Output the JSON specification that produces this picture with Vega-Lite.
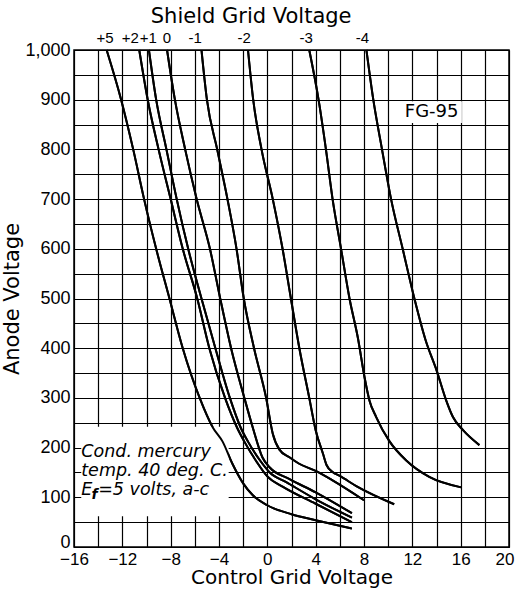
{
  "$schema": "https://vega.github.io/schema/vega-lite/v6.json",
  "width": 435,
  "height": 497,
  "autosize": "none",
  "padding": {"left": 74, "top": 50, "right": 6, "bottom": 45},
  "background": "white",
  "config": {
    "view": {"stroke": "black", "strokeWidth": 1.5},
    "axis": {"labelColor": "black", "titleColor": "black", "labelFont": "Liberation Sans", "titleFont": "DejaVu Sans", "labelFontSize": 18, "titleFontSize": 21, "titleFontWeight": "normal"}
  },
  "datasets": {
    "curves": [
      {"sg": "+5", "v": -13.3, "a": 1000}, {"sg": "+5", "v": -12.1, "a": 900}, {"sg": "+5", "v": -11.1, "a": 800}, {"sg": "+5", "v": -10.2, "a": 700}, {"sg": "+5", "v": -9.2, "a": 600}, {"sg": "+5", "v": -8.1, "a": 500}, {"sg": "+5", "v": -7.0, "a": 400}, {"sg": "+5", "v": -5.6, "a": 300}, {"sg": "+5", "v": -4.5, "a": 240}, {"sg": "+5", "v": -3.7, "a": 212}, {"sg": "+5", "v": -2.9, "a": 168}, {"sg": "+5", "v": -2.0, "a": 128}, {"sg": "+5", "v": -1.2, "a": 104}, {"sg": "+5", "v": 0, "a": 84}, {"sg": "+5", "v": 2, "a": 66}, {"sg": "+5", "v": 4, "a": 54}, {"sg": "+5", "v": 7, "a": 37},
      {"sg": "+2", "v": -10.6, "a": 1000}, {"sg": "+2", "v": -9.9, "a": 900}, {"sg": "+2", "v": -9.0, "a": 800}, {"sg": "+2", "v": -8.0, "a": 700}, {"sg": "+2", "v": -7.0, "a": 600}, {"sg": "+2", "v": -5.8, "a": 500}, {"sg": "+2", "v": -4.8, "a": 400}, {"sg": "+2", "v": -3.5, "a": 300}, {"sg": "+2", "v": -2.5, "a": 240}, {"sg": "+2", "v": -1.9, "a": 212}, {"sg": "+2", "v": -0.9, "a": 172}, {"sg": "+2", "v": 0, "a": 142}, {"sg": "+2", "v": 1.3, "a": 121}, {"sg": "+2", "v": 4, "a": 87}, {"sg": "+2", "v": 7, "a": 50},
      {"sg": "+1", "v": -9.8, "a": 1000}, {"sg": "+1", "v": -9.2, "a": 900}, {"sg": "+1", "v": -8.35, "a": 800}, {"sg": "+1", "v": -7.5, "a": 700}, {"sg": "+1", "v": -6.55, "a": 600}, {"sg": "+1", "v": -5.45, "a": 500}, {"sg": "+1", "v": -4.3, "a": 400}, {"sg": "+1", "v": -3.1, "a": 300}, {"sg": "+1", "v": -2.2, "a": 240}, {"sg": "+1", "v": -1.6, "a": 212}, {"sg": "+1", "v": -0.6, "a": 174}, {"sg": "+1", "v": 0.2, "a": 150}, {"sg": "+1", "v": 1.6, "a": 130}, {"sg": "+1", "v": 4, "a": 96}, {"sg": "+1", "v": 7, "a": 59},
      {"sg": "0", "v": -8.3, "a": 1000}, {"sg": "0", "v": -7.65, "a": 900}, {"sg": "0", "v": -6.8, "a": 800}, {"sg": "0", "v": -5.85, "a": 700}, {"sg": "0", "v": -4.75, "a": 600}, {"sg": "0", "v": -3.9, "a": 500}, {"sg": "0", "v": -3.0, "a": 400}, {"sg": "0", "v": -1.9, "a": 300}, {"sg": "0", "v": -1.2, "a": 240}, {"sg": "0", "v": -0.4, "a": 180}, {"sg": "0", "v": 0.2, "a": 160}, {"sg": "0", "v": 1.8, "a": 137}, {"sg": "0", "v": 4, "a": 110}, {"sg": "0", "v": 7, "a": 68},
      {"sg": "-1", "v": -5.45, "a": 1000}, {"sg": "-1", "v": -5.0, "a": 900}, {"sg": "-1", "v": -4.15, "a": 800}, {"sg": "-1", "v": -3.3, "a": 700}, {"sg": "-1", "v": -2.55, "a": 600}, {"sg": "-1", "v": -1.95, "a": 500}, {"sg": "-1", "v": -1.1, "a": 400}, {"sg": "-1", "v": -0.1, "a": 300}, {"sg": "-1", "v": 0.45, "a": 228}, {"sg": "-1", "v": 1.0, "a": 196}, {"sg": "-1", "v": 1.8, "a": 181}, {"sg": "-1", "v": 2.6, "a": 168}, {"sg": "-1", "v": 4, "a": 153}, {"sg": "-1", "v": 5.4, "a": 134}, {"sg": "-1", "v": 8, "a": 94},
      {"sg": "-2", "v": -1.6, "a": 1000}, {"sg": "-2", "v": -1.17, "a": 900}, {"sg": "-2", "v": -0.48, "a": 800}, {"sg": "-2", "v": 0.45, "a": 700}, {"sg": "-2", "v": 1.26, "a": 600}, {"sg": "-2", "v": 1.95, "a": 500}, {"sg": "-2", "v": 2.65, "a": 400}, {"sg": "-2", "v": 3.47, "a": 300}, {"sg": "-2", "v": 4.0, "a": 235}, {"sg": "-2", "v": 4.6, "a": 188}, {"sg": "-2", "v": 4.9, "a": 165}, {"sg": "-2", "v": 5.4, "a": 151}, {"sg": "-2", "v": 6.0, "a": 143}, {"sg": "-2", "v": 7.4, "a": 122}, {"sg": "-2", "v": 10.5, "a": 86},
      {"sg": "-3", "v": 3.47, "a": 1000}, {"sg": "-3", "v": 4.24, "a": 900}, {"sg": "-3", "v": 4.85, "a": 800}, {"sg": "-3", "v": 5.4, "a": 700}, {"sg": "-3", "v": 6.1, "a": 600}, {"sg": "-3", "v": 6.8, "a": 500}, {"sg": "-3", "v": 7.5, "a": 420}, {"sg": "-3", "v": 8.04, "a": 342}, {"sg": "-3", "v": 8.45, "a": 295}, {"sg": "-3", "v": 9.0, "a": 262}, {"sg": "-3", "v": 10.1, "a": 213}, {"sg": "-3", "v": 11.5, "a": 174}, {"sg": "-3", "v": 13.4, "a": 141}, {"sg": "-3", "v": 16.05, "a": 120},
      {"sg": "-4", "v": 8.2, "a": 1000}, {"sg": "-4", "v": 8.77, "a": 900}, {"sg": "-4", "v": 9.49, "a": 800}, {"sg": "-4", "v": 10.24, "a": 700}, {"sg": "-4", "v": 11.2, "a": 600}, {"sg": "-4", "v": 12.17, "a": 500}, {"sg": "-4", "v": 13.1, "a": 416}, {"sg": "-4", "v": 14.0, "a": 356}, {"sg": "-4", "v": 14.8, "a": 295}, {"sg": "-4", "v": 15.35, "a": 262}, {"sg": "-4", "v": 16.2, "a": 235}, {"sg": "-4", "v": 17.55, "a": 205}
    ],
    "shieldLabels": [
      {"label": "+5", "v": -13.43}, {"label": "+2", "v": -11.35}, {"label": "+1", "v": -9.85}, {"label": "0", "v": -8.3},
      {"label": "-1", "v": -5.98}, {"label": "-2", "v": -1.92}, {"label": "-3", "v": 3.22}, {"label": "-4", "v": 7.86}
    ],
    "topTitle": [
      {"text": "Shield Grid Voltage", "v": -1.34}
    ],
    "boxes": [
      {"x1": -15.4, "x2": -3.2, "y1": 62, "y2": 242},
      {"x1": 10.9, "x2": 16.1, "y1": 853, "y2": 897}
    ],
    "notes": [
      {"text": "Cond. mercury", "v": -15.4, "a": 192},
      {"text": "temp. 40 deg. C.", "v": -15.4, "a": 153},
      {"text": "E", "v": -15.4, "a": 114},
      {"text": "=5 volts, a-c", "v": -14.0, "a": 114}
    ],
    "subs": [
      {"text": "f", "v": -14.55, "a": 104}
    ],
    "model": [
      {"text": "FG-95", "v": 13.6, "a": 875}
    ]
  },
  "layer": [
    {
      "data": {"name": "curves"},
      "mark": {"type": "line", "interpolate": "monotone", "color": "black", "strokeWidth": 2},
      "encoding": {
        "x": {"field": "v", "type": "quantitative", "scale": {"domain": [-16, 20], "nice": false, "zero": false}, "axis": {"grid": true, "gridColor": "#000000", "gridOpacity": 1, "gridWidth": 1.2, "tickCount": 18, "tickSize": 0, "domainColor": "#000000", "labelFlush": false, "labelFontSize": 17, "labelExpr": "datum.value % 4 === 0 ? datum.label : ''", "labelAlign": {"condition": {"test": "datum.value >= 20", "value": "right"}, "value": "center"}, "labelOffset": {"condition": {"test": "datum.value >= 20", "value": 5}, "value": 0}, "labelPadding": 4, "title": "Control Grid Voltage", "titleFontSize": 20, "titlePadding": 0}},
        "y": {"field": "a", "type": "quantitative", "scale": {"domain": [0, 1000], "nice": false}, "axis": {"grid": true, "gridColor": "#000000", "gridOpacity": 1, "gridWidth": 1.2, "tickCount": 20, "tickSize": 0, "domainColor": "#000000", "labelFlush": false, "labelExpr": "datum.value % 100 === 0 ? format(datum.value, ',') : ''", "labelOffset": {"condition": {"test": "datum.value === 0", "value": -5}, "value": 0}, "labelPadding": 4, "title": "Anode Voltage", "titlePadding": 2}},
        "detail": {"field": "sg"},
        "order": {"field": "v", "type": "quantitative"}
      }
    },
    {
      "data": {"name": "boxes"},
      "mark": {"type": "rect", "fill": "white"},
      "encoding": {
        "x": {"field": "x1", "type": "quantitative"},
        "x2": {"field": "x2"},
        "y": {"field": "y1", "type": "quantitative"},
        "y2": {"field": "y2"}
      }
    },
    {
      "data": {"name": "curves"},
      "mark": {"type": "line", "interpolate": "monotone", "color": "black", "strokeWidth": 2},
      "encoding": {
        "x": {"field": "v", "type": "quantitative"},
        "y": {"field": "a", "type": "quantitative"},
        "detail": {"field": "sg"},
        "order": {"field": "v", "type": "quantitative"}
      }
    },
    {
      "data": {"name": "notes"},
      "mark": {"type": "text", "align": "left", "baseline": "middle", "font": "DejaVu Sans", "fontStyle": "italic", "fontSize": 17.5, "color": "black"},
      "encoding": {
        "x": {"field": "v", "type": "quantitative"},
        "y": {"field": "a", "type": "quantitative"},
        "text": {"field": "text"}
      }
    },
    {
      "data": {"name": "subs"},
      "mark": {"type": "text", "align": "left", "baseline": "middle", "font": "DejaVu Sans", "fontStyle": "italic", "fontWeight": "bold", "fontSize": 14, "color": "black"},
      "encoding": {
        "x": {"field": "v", "type": "quantitative"},
        "y": {"field": "a", "type": "quantitative"},
        "text": {"field": "text"}
      }
    },
    {
      "data": {"name": "model"},
      "mark": {"type": "text", "align": "center", "baseline": "middle", "font": "DejaVu Sans", "fontSize": 18, "color": "black"},
      "encoding": {
        "x": {"field": "v", "type": "quantitative"},
        "y": {"field": "a", "type": "quantitative"},
        "text": {"field": "text"}
      }
    },
    {
      "data": {"name": "shieldLabels"},
      "mark": {"type": "text", "align": "center", "baseline": "middle", "dy": -12, "font": "Liberation Sans", "fontSize": 15, "color": "black"},
      "encoding": {
        "x": {"field": "v", "type": "quantitative"},
        "y": {"datum": 1000, "type": "quantitative"},
        "text": {"field": "label"}
      }
    },
    {
      "data": {"name": "topTitle"},
      "mark": {"type": "text", "align": "center", "baseline": "middle", "dy": -33, "font": "DejaVu Sans", "fontSize": 21, "color": "black"},
      "encoding": {
        "x": {"field": "v", "type": "quantitative"},
        "y": {"datum": 1000, "type": "quantitative"},
        "text": {"field": "text"}
      }
    }
  ]
}
